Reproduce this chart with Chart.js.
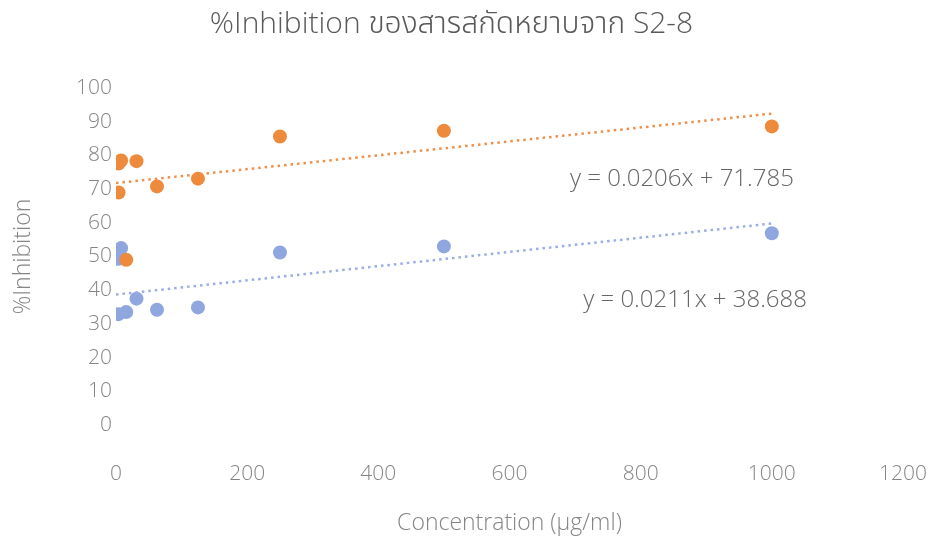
<!DOCTYPE html>
<html>
<head>
<meta charset="utf-8">
<script src="https://cdn.jsdelivr.net/npm/chart.js"></script>
<style>
  html, body { margin: 0; padding: 0; background: #fff; }
  #wrap { width: 937px; height: 546px; }
</style>
</head>
<body>
<div id="wrap"><canvas id="c" width="937" height="546"></canvas></div>
<script>
// data
const titleText = "%Inhibition ของสารสกัดหยาบจาก S2-8";
const xTitle = "Concentration (µg/ml)";
const yTitle = "%Inhibition";

// orange series (concentration, %inhibition)
const orangeX = [3.9, 7.8, 31.25, 3.9, 62.5, 125, 15.6, 250, 500, 1000];
const orangeY = [77.6, 78.5, 78.3, 69.0, 70.8, 73.1, 49.0, 85.6, 87.3, 88.6];

// blue series
const blueX = [3.9, 7.8, 3.9, 15.6, 31.25, 62.5, 125, 250, 500, 1000];
const blueY = [49.3, 52.5, 32.9, 33.5, 37.5, 34.2, 34.9, 51.2, 53.0, 56.9];

// linear trendline end points
const orangeTrendX = [0, 1000];
const orangeTrendY = [71.8, 92.4];
const blueTrendX = [0, 1000];
const blueTrendY = [38.7, 59.8];

const equations = ["y = 0.0206x + 71.785", "y = 0.0211x + 38.688"];

const orange = "#EE8A3C";
const blue = "#8FA6DE";
const grey = "#858585";
const fontFam = "'Open Sans', 'Noto Sans Thai', 'Noto Sans', sans-serif";

function pts(xs, ys) {
  return xs.map((x, i) => ({ x: x, y: ys[i] }));
}

// trendline equations, anchored in value space
const eqPlugin = {
  id: "eqLabels",
  afterDatasetsDraw(chart) {
    const { ctx, scales } = chart;
    const spots = [{ x: 863, y: 73 }, { x: 883, y: 37 }];
    ctx.save();
    ctx.font = "300 24px " + fontFam;
    ctx.fillStyle = "#666666";
    ctx.textAlign = "center";
    ctx.textBaseline = "middle";
    equations.forEach((t, i) => {
      ctx.fillText(t, scales.x.getPixelForValue(spots[i].x), scales.y.getPixelForValue(spots[i].y));
    });
    ctx.restore();
  }
};

new Chart(document.getElementById("c"), {
  type: "scatter",
  data: {
    datasets: [
      {
        data: pts(orangeTrendX, orangeTrendY),
        showLine: true,
        borderColor: "#EE8F4A",
        borderWidth: 2.5,
        borderDash: [2.5, 4],
        pointRadius: 0,
        fill: false
      },
      {
        data: pts(blueTrendX, blueTrendY),
        showLine: true,
        borderColor: "#9AAEE3",
        borderWidth: 2.5,
        borderDash: [2.5, 4],
        pointRadius: 0,
        fill: false
      },
      {
        data: pts(orangeX, orangeY),
        backgroundColor: orange,
        borderColor: orange,
        pointRadius: 7,
        borderWidth: 0
      },
      {
        data: pts(blueX, blueY),
        backgroundColor: blue,
        borderColor: blue,
        pointRadius: 7,
        borderWidth: 0
      }
    ]
  },
  options: {
    responsive: false,
    animation: false,
    layout: { padding: { left: 0, right: 34, top: 0, bottom: 8 } },
    plugins: {
      legend: { display: false },
      tooltip: { enabled: false },
      title: {
        display: true,
        text: titleText,
        color: "#595959",
        font: { family: fontFam, size: 30, weight: "300" },
        padding: { top: 6, bottom: 46 }
      }
    },
    scales: {
      x: {
        type: "linear",
        min: 0,
        max: 1200,
        ticks: {
          stepSize: 200,
          color: grey,
          padding: 36,
          font: { family: fontFam, size: 21, weight: "300" },
          callback: (v) => String(v)
        },
        grid: { display: false, drawTicks: false },
        border: { display: false },
        title: {
          display: true,
          text: xTitle,
          color: grey,
          padding: { top: 4, bottom: 1 },
          font: { family: fontFam, size: 23, weight: "300" }
        },
        afterFit(s) {
          s.height = 113;
          s.paddingRight = 0;
          s.paddingLeft = 0;
        }
      },
      y: {
        min: 0,
        max: 100,
        ticks: {
          stepSize: 10,
          color: grey,
          padding: 4,
          font: { family: fontFam, size: 21, weight: "300" }
        },
        grid: { display: false, drawTicks: false },
        border: { display: false },
        title: {
          display: true,
          text: yTitle,
          color: grey,
          padding: { top: 10 },
          font: { family: fontFam, size: 23, weight: "300" }
        },
        afterFit(s) { s.width = 116; }
      }
    }
  },
  plugins: [eqPlugin]
});
</script>
</body>
</html>
